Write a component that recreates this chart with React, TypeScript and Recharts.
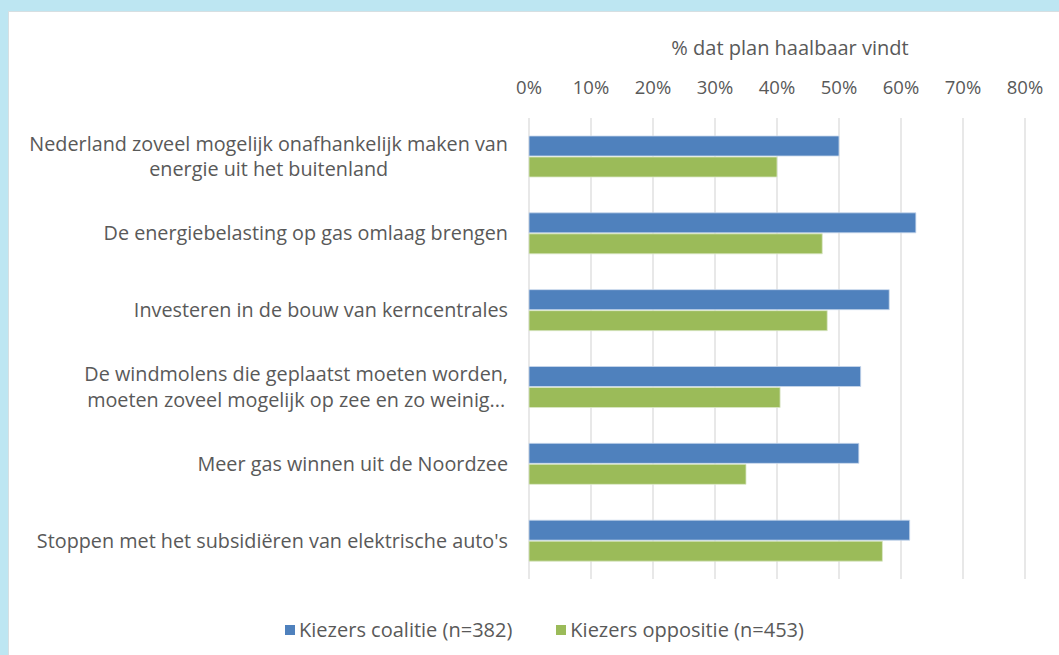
import React from 'react';
import { BarChart, Bar, XAxis, YAxis, CartesianGrid, Legend } from 'recharts';

const categories = [
  'Nederland zoveel mogelijk onafhankelijk maken van\nenergie uit het buitenland',
  'De energiebelasting op gas omlaag brengen',
  'Investeren in de bouw van kerncentrales',
  'De windmolens die geplaatst moeten worden,\nmoeten zoveel mogelijk op zee en zo weinig...',
  'Meer gas winnen uit de Noordzee',
  "Stoppen met het subsidiëren van elektrische auto's",
];
const coalitie = [50, 62.4, 58.1, 53.5, 53.2, 61.4];
const oppositie = [40, 47.3, 48.1, 40.5, 35, 57];
const seriesNames = ['Kiezers coalitie (n=382)', 'Kiezers oppositie (n=453)'];
const xTicks = [0, 10, 20, 30, 40, 50, 60, 70, 80];
const axisTitle = '% dat plan haalbaar vindt';

const FONT = '"Open Sans", sans-serif';
const TEXT = '#595959';
const BLUE = '#4f81bd';
const GREEN = '#9bbb59';

const data = categories.map((c, i) => ({ name: c, coalitie: coalitie[i], oppositie: oppositie[i] }));

let canvas: HTMLCanvasElement | null = null;
function measure(t: string, size: number) {
  if (!canvas) canvas = document.createElement('canvas');
  const ctx = canvas.getContext('2d')!;
  ctx.font = `${size}px "Open Sans"`;
  return ctx.measureText(t).width;
}

const CatTick = (props: any) => {
  const { x, y, payload } = props;
  const lines: string[] = String(payload.value).split('\n');
  const fs = 19.8;
  const lh = 25.5;
  const widths = lines.map((l) => measure(l, fs));
  const w = Math.max(...widths);
  const cx = x - w / 2;
  const start = y - ((lines.length - 1) * lh) / 2;
  return (
    <g>
      {lines.map((l, i) => (
        <text key={i} x={cx} y={start + i * lh} dy="0.35em" textAnchor="middle" fill={TEXT} fontSize={fs} fontFamily={FONT}>
          {l}
        </text>
      ))}
    </g>
  );
};

const LegendContent = () => (
  <div style={{ display: 'flex', justifyContent: 'center', fontFamily: FONT, fontSize: 20, color: TEXT, paddingLeft: 30 }}>
    {seriesNames.map((n, i) => (
      <div key={n} style={{ display: 'flex', alignItems: 'center', marginRight: i === 0 ? 44 : 0 }}>
        <span style={{ display: 'inline-block', width: 10, height: 10, background: i === 0 ? BLUE : GREEN, marginRight: 4 }} />
        <span>{n}</span>
      </div>
    ))}
  </div>
);

export default function App() {
  return (
    <div style={{ position: 'absolute', left: 0, top: 0, width: 1059, height: 655, background: '#bde6f2', overflow: 'hidden' }}>
      <div style={{ position: 'absolute', left: 8, top: 11, width: 1060, height: 650, background: '#fff', borderTop: '1px solid #d6dfe2', borderLeft: '1px solid #d6dfe2' }} />
      <div style={{ position: 'absolute', left: 0, top: 0 }}>
        <BarChart
          width={1059}
          height={655}
          data={data}
          layout="vertical"
          margin={{ top: 58, right: 34, left: 0, bottom: 49 }}
          barSize={20}
          barGap={1}
        >
          <CartesianGrid horizontal={false} stroke="#d9d9d9" strokeWidth={1.2} />
          <XAxis
            type="number"
            orientation="top"
            domain={[0, 80]}
            ticks={xTicks}
            tickFormatter={(v: number) => `${v}%`}
            axisLine={false}
            tickLine={false}
            tickSize={6}
            tickMargin={18}
            height={60}
            tick={{ fill: TEXT, fontSize: 18.5, fontFamily: FONT }}
            label={{ value: axisTitle, position: 'top', offset: 3, dx: 13, fill: TEXT, fontSize: 20, fontFamily: FONT }}
            interval={0}
          />
          <YAxis
            type="category"
            dataKey="name"
            width={529}
            axisLine={false}
            tickLine={false}
            tickSize={0}
            tickMargin={21}
            tick={<CatTick />}
            interval={0}
          />
          <Bar dataKey="coalitie" name={seriesNames[0]} fill={BLUE} stroke="#c9d8ec" strokeWidth={0.8} isAnimationActive={false} />
          <Bar dataKey="oppositie" name={seriesNames[1]} fill={GREEN} stroke="#dbe7c6" strokeWidth={0.8} isAnimationActive={false} />
          <Legend
            layout="vertical"
            align="center"
            verticalAlign="bottom"
            content={<LegendContent />}
            wrapperStyle={{ top: 616, left: 0, width: 1059 }}
          />
        </BarChart>
      </div>
    </div>
  );
}
